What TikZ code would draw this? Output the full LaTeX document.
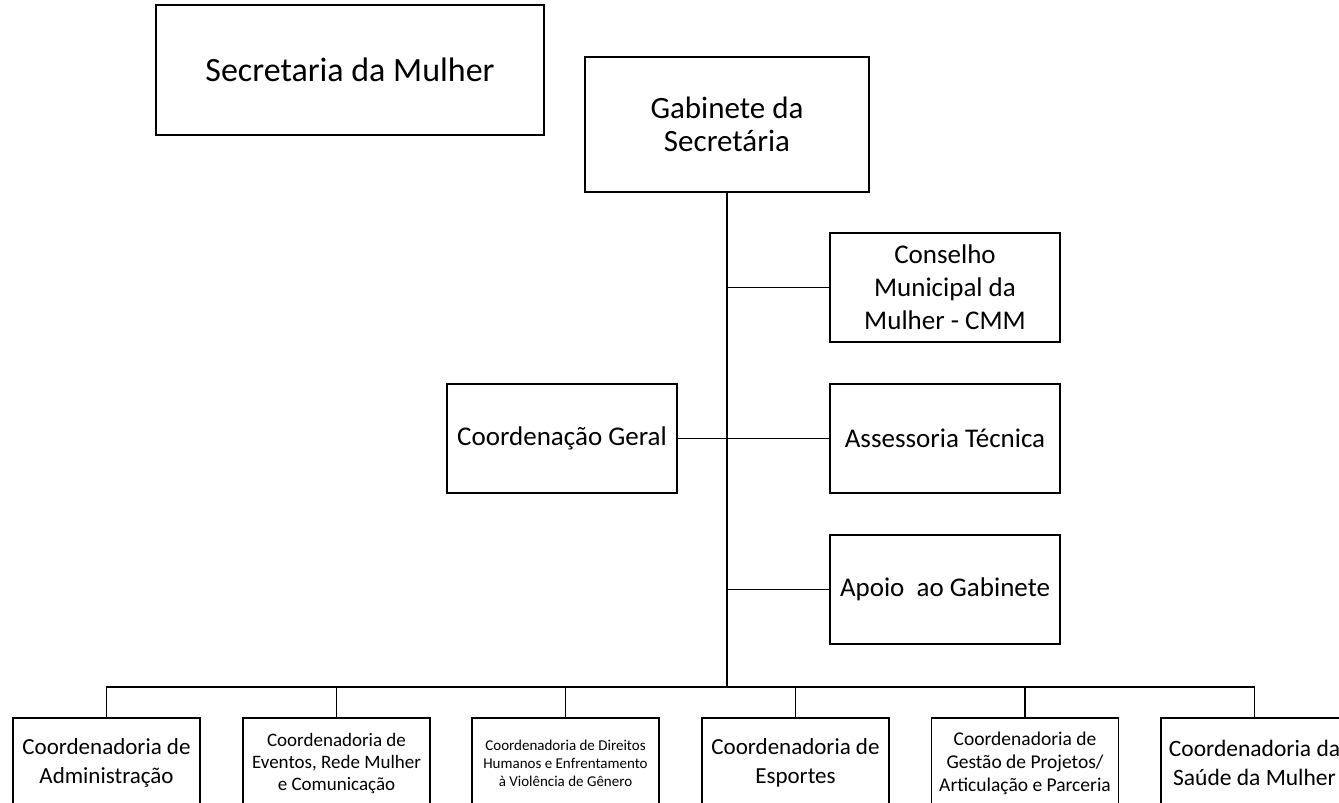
\documentclass[tikz,border=0pt]{standalone}
\usepackage{fontspec}
\setmainfont{Carlito-Regular.ttf}
\begin{document}
\begin{tikzpicture}[x=1pt,y=-1pt,
  box/.style={draw=black,line width=1.1pt,fill=white,align=center,inner sep=0pt,anchor=center},
  conn/.style={draw=black,line width=1.1pt}]
\useasboundingbox[fill=white] (0,0) rectangle (1339,803);
% top boxes
\node[box,minimum width=388pt,minimum height=130pt,font=\fontsize{34}{41}\selectfont] (sec) at (350,70) {Secretaria da Mulher};
\node[box,minimum width=284pt,minimum height=135pt,font=\fontsize{31}{33}\selectfont] (gab) at (727,124.5) {Gabinete da\\Secretária};
% side boxes
\node[box,minimum width=230pt,minimum height=109pt,font=\fontsize{27}{33}\selectfont] (cons) at (945,287.5) {Conselho\\Municipal da\\Mulher - CMM};
\node[box,minimum width=230pt,minimum height=109pt,font=\fontsize{27}{33}\selectfont] (geral) at (562,438.5) {Coordenação Geral};
\node[box,minimum width=230pt,minimum height=109pt,font=\fontsize{27}{33}\selectfont] (assess) at (945,438.5) {Assessoria Técnica};
\node[box,minimum width=230pt,minimum height=109pt,font=\fontsize{27}{33}\selectfont] (apoio) at (945,589.5) {Apoio\ \ ao Gabinete};
% bottom boxes
\node[box,minimum width=187pt,minimum height=90pt,font=\fontsize{23}{29}\selectfont] (b1) at (106.5,763) {Coordenadoria de\\Administração};
\node[box,minimum width=187pt,minimum height=90pt,font=\fontsize{19}{22}\selectfont] (b2) at (336.5,763) {Coordenadoria de\\Eventos, Rede Mulher\\e Comunicação};
\node[box,minimum width=187pt,minimum height=90pt,font=\fontsize{15}{18}\selectfont] (b3) at (565.5,763) {Coordenadoria de Direitos\\Humanos e Enfrentamento\\à Violência de Gênero};
\node[box,minimum width=187pt,minimum height=90pt,font=\fontsize{23}{29}\selectfont] (b4) at (795.5,763) {Coordenadoria de\\Esportes};
\node[box,minimum width=187pt,minimum height=90pt,font=\fontsize{19.5}{23}\selectfont] (b5) at (1025,763) {Coordenadoria de\\Gestão de Projetos/\\Articulação e Parceria};
\node[box,minimum width=187pt,minimum height=90pt,font=\fontsize{23.5}{29}\selectfont] (b6) at (1254.5,763) {Coordenadoria da\\Saúde da Mulher};
% connectors
\coordinate (bar) at (727,687);
\draw[conn] (gab.south) -- (gab.south |- bar);
\draw[conn] (cons.west) -- (cons.west -| gab.south);
\draw[conn] (geral.east) -- (assess.west);
\draw[conn] (apoio.west) -- (apoio.west -| gab.south);
\draw[conn] (b1.north) -- (b1.north |- bar) -- (b6.north |- bar) -- (b6.north);
\foreach \b in {b2,b3,b4,b5}{\draw[conn] (\b.north) -- (\b.north |- bar);}
\end{tikzpicture}
\end{document}
